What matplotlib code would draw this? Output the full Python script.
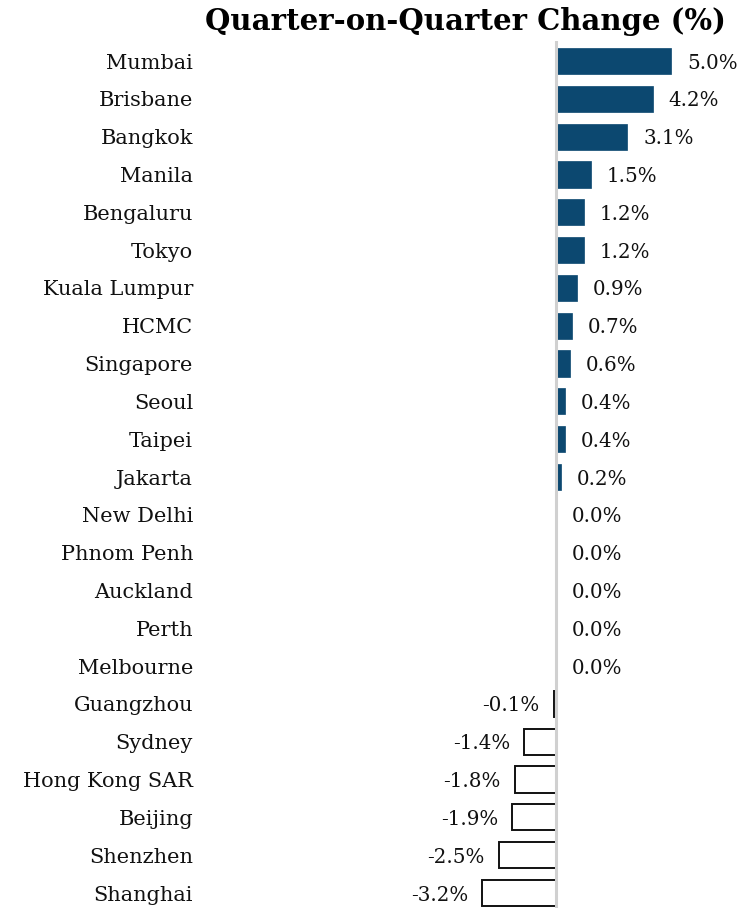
import matplotlib
matplotlib.use("Agg")
import matplotlib.pyplot as plt

cities = ["Mumbai", "Brisbane", "Bangkok", "Manila", "Bengaluru", "Tokyo",
          "Kuala Lumpur", "HCMC", "Singapore", "Seoul", "Taipei", "Jakarta",
          "New Delhi", "Phnom Penh", "Auckland", "Perth", "Melbourne",
          "Guangzhou", "Sydney", "Hong Kong SAR", "Beijing", "Shenzhen", "Shanghai"]
values = [5.0, 4.2, 3.1, 1.5, 1.2, 1.2, 0.9, 0.7, 0.6, 0.4, 0.4, 0.2,
          0.0, 0.0, 0.0, 0.0, 0.0, -0.1, -1.4, -1.8, -1.9, -2.5, -3.2]
title = "Quarter-on-Quarter Change (%)"

plt.rcParams['font.family'] = ['DejaVu Serif']
W, H = 749, 908
fig = plt.figure(figsize=(W/100, H/100), dpi=100)

n = len(cities)
row_top, row_bot = 61, 893
sp = (row_bot - row_top) / (n - 1)
ax_top_px = 41
ax_left_px, ax_right_px = 205, 745
zero_px = 556
ppu = 23.0

ax = fig.add_axes([ax_left_px/W, 0, (ax_right_px-ax_left_px)/W, 1 - ax_top_px/H])
ax.set_xlim(-(zero_px-ax_left_px)/ppu, (ax_right_px-zero_px)/ppu)
ytop = -(row_top - ax_top_px)/sp
ax.set_ylim(ytop + (H - ax_top_px)/sp, ytop)

pos = list(range(n))
for i, (c, v) in enumerate(zip(cities, values)):
    if v >= 0:
        ax.barh(i, v, height=0.69, color="#0c4870", edgecolor="#0c4870", linewidth=0.5, zorder=2)
        ax.annotate(f"{v:.1f}%", (v, i), xytext=(11.5, -1.5), textcoords="offset points",
                    ha="left", va="center", fontsize=14.3, color="#111111")
    else:
        ax.barh(i, v, height=0.69, color="white", edgecolor="#111111", linewidth=1.4, zorder=2)
        ax.annotate(f"{v:.1f}%", (v, i), xytext=(-10, -1.5), textcoords="offset points",
                    ha="right", va="center", fontsize=14.3, color="#111111")

ax.axvline(0, color="#d0d0d0", linewidth=2.2, zorder=3)
ax.set_yticks(pos)
ax.set_yticklabels(cities, fontsize=15, color="#111111")
ax.tick_params(axis="y", length=0, pad=8.6)
ax.set_xticks([])
for s in ax.spines.values():
    s.set_visible(False)

fig.text(465/W, 1 - 21/H, title, ha="center", va="center", fontsize=21,
         fontweight="bold", color="#000000")

fig.savefig("out.png", dpi=100)
